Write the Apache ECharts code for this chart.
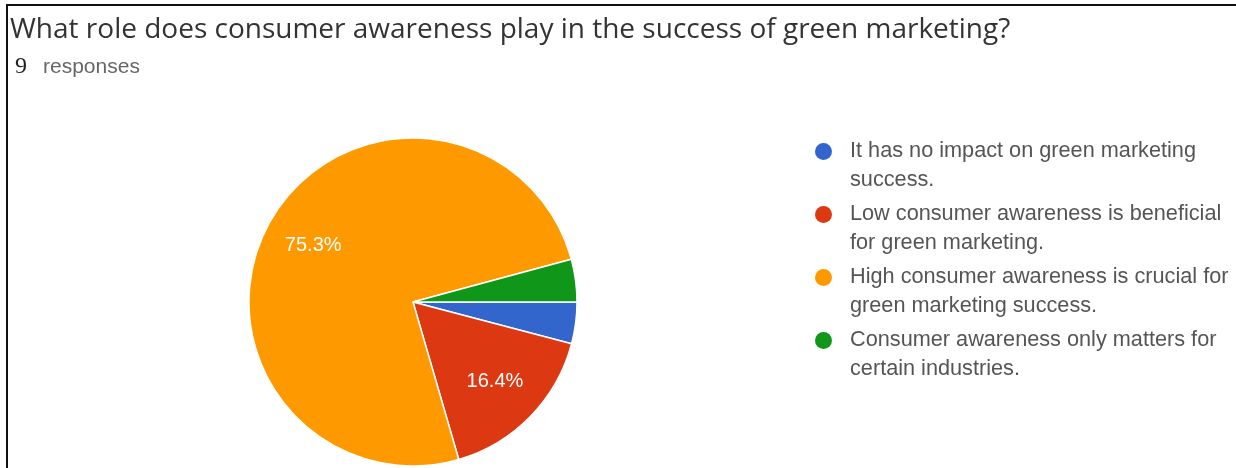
<!DOCTYPE html>
<html>
<head>
<meta charset="utf-8">
<script src="https://cdn.jsdelivr.net/npm/echarts@6/dist/echarts.min.js"></script>
<style>
  html, body { margin: 0; padding: 0; background: #fff; overflow: hidden; }
  #chart { position: absolute; left: 0; top: 0; width: 1236px; height: 468px; }
  #frame { position: absolute; left: 6px; top: 4px; width: 1228px; height: 462px;
           border-top: 2px solid #111; border-left: 2px solid #111; pointer-events: none; }
</style>
</head>
<body>
<div id="chart"></div>
<div id="frame"></div>
<script>
const titleText = 'What role does consumer awareness play in the success of green marketing?';
const responseCount = '9';
const responseWord = 'responses';
const categories = [
  'It has no impact on green marketing success.',
  'Low consumer awareness is beneficial for green marketing.',
  'High consumer awareness is crucial for green marketing success.',
  'Consumer awareness only matters for certain industries.'
];
const legendLines = [
  ['It has no impact on green marketing', 'success.'],
  ['Low consumer awareness is beneficial', 'for green marketing.'],
  ['High consumer awareness is crucial for', 'green marketing success.'],
  ['Consumer awareness only matters for', 'certain industries.']
];
const percents = [4.1, 16.4, 75.3, 4.2];
const colors = ['#3366cc', '#dc3912', '#ff9900', '#109618'];

const chart = echarts.init(document.getElementById('chart'), null, { renderer: 'canvas' });
const pieData = categories.map((c, i) => ({ name: c, value: percents[i], itemStyle: { color: colors[i] } }));
const labelData = categories.map((c, i) => ({ name: c, value: percents[i] }));

chart.setOption({
  backgroundColor: '#ffffff',
  animation: false,
  title: [
    {
      text: titleText, left: 10, top: 15, padding: 0,
      textStyle: { fontFamily: 'Open Sans', fontWeight: 'normal', fontSize: 28, lineHeight: 30, color: '#333' }
    },
    {
      text: '{n|' + responseCount + '}{r|' + responseWord + '}', left: 15, top: 55, padding: 0,
      textStyle: {
        fontWeight: 'normal',
        rich: {
          n: { fontFamily: 'Liberation Serif', fontWeight: 'normal', fontSize: 24, color: '#222', lineHeight: 24 },
          r: { fontFamily: 'Liberation Sans', fontWeight: 'normal', fontSize: 21, color: '#666', lineHeight: 24, padding: [0, 0, 0, 16] }
        }
      }
    }
  ],
  legend: {
    orient: 'vertical', left: 815, top: 108, padding: 0,
    icon: 'circle', itemWidth: 17, itemHeight: 17, itemGap: -24,
    data: categories.map((c, i) => ({ name: c, itemStyle: { color: colors[i] } })),
    formatter: name => '\n' + legendLines[categories.indexOf(name)].join('\n'),
    textStyle: { fontFamily: 'Liberation Sans', fontSize: 21.7, lineHeight: 29, color: '#555', padding: [0, 0, 0, 13] },
    itemStyle: { borderWidth: 0 },
    selectedMode: false
  },
  series: [
    {
      type: 'pie', center: [413, 302], radius: 164, startAngle: 0, clockwise: true,
      data: pieData, label: { show: false }, labelLine: { show: false },
      itemStyle: { borderColor: '#ffffff', borderWidth: 1.5 },
      emphasis: { disabled: true }
    },
    {
      type: 'pie', center: [413, 302], radius: [59, 164], startAngle: 0, clockwise: true,
      data: labelData, silent: true, legendHoverLink: false,
      itemStyle: { color: 'rgba(0,0,0,0)', borderWidth: 0 },
      label: {
        show: true, position: 'inside', color: '#ffffff',
        fontFamily: 'Liberation Sans', fontSize: 20,
        formatter: p => p.value >= 5 ? p.value.toFixed(1) + '%' : ''
      },
      labelLine: { show: false },
      emphasis: { disabled: true }
    }
  ]
});
</script>
</body>
</html>
